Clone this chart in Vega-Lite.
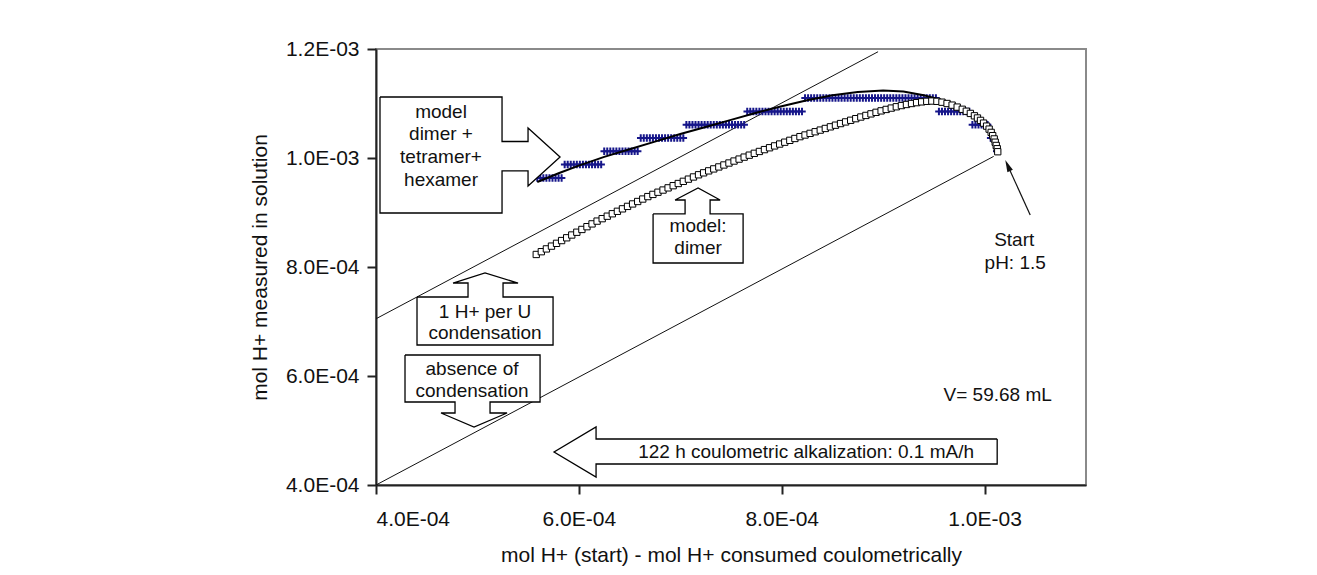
{
  "$schema": "https://vega.github.io/schema/vega-lite/v6.json",
  "width": 710,
  "height": 436,
  "autosize": {"type": "none"},
  "padding": {"left": 376, "top": 49, "right": 231, "bottom": 90},
  "background": "white",
  "config": {
    "font": "Liberation Sans",
    "view": {"stroke": "#8a8a8a", "strokeWidth": 2},
    "axis": {
      "grid": false,
      "domainColor": "#222222",
      "domainWidth": 2,
      "tickColor": "#222222",
      "tickWidth": 2,
      "tickSize": 9,
      "labelFont": "Liberation Sans",
      "labelFontSize": 21,
      "labelColor": "#111111",
      "titleFont": "Liberation Sans",
      "titleFontSize": 21,
      "titleFontWeight": "normal",
      "titleColor": "#111111",
      "labelOverlap": false
    }
  },
  "datasets": {
    "guides": [
      {"line": "one_h_per_u", "x": 4.0e-4, "y": 7.05e-4},
      {"line": "one_h_per_u", "x": 8.95e-4, "y": 1.195e-3},
      {"line": "no_condensation", "x": 4.0e-4, "y": 4.0e-4},
      {"line": "no_condensation", "x": 1.009e-3, "y": 1.003e-3}
    ],
    "measured": [
      {"x": 5.59e-4, "y": 9.635e-4}, {"x": 5.62e-4, "y": 9.635e-4}, {"x": 5.65e-4, "y": 9.635e-4},
      {"x": 5.68e-4, "y": 9.635e-4}, {"x": 5.71e-4, "y": 9.635e-4}, {"x": 5.74e-4, "y": 9.635e-4},
      {"x": 5.77e-4, "y": 9.635e-4}, {"x": 5.80e-4, "y": 9.635e-4}, {"x": 5.83e-4, "y": 9.635e-4},
      {"x": 5.86e-4, "y": 9.88e-4}, {"x": 5.89e-4, "y": 9.88e-4}, {"x": 5.92e-4, "y": 9.88e-4},
      {"x": 5.95e-4, "y": 9.88e-4}, {"x": 5.98e-4, "y": 9.88e-4}, {"x": 6.01e-4, "y": 9.88e-4},
      {"x": 6.04e-4, "y": 9.88e-4}, {"x": 6.07e-4, "y": 9.88e-4}, {"x": 6.10e-4, "y": 9.88e-4},
      {"x": 6.13e-4, "y": 9.88e-4}, {"x": 6.16e-4, "y": 9.88e-4}, {"x": 6.19e-4, "y": 9.88e-4},
      {"x": 6.22e-4, "y": 9.88e-4},
      {"x": 6.25e-4, "y": 1.0123e-3}, {"x": 6.28e-4, "y": 1.0123e-3}, {"x": 6.31e-4, "y": 1.0123e-3},
      {"x": 6.34e-4, "y": 1.0123e-3}, {"x": 6.37e-4, "y": 1.0123e-3}, {"x": 6.40e-4, "y": 1.0123e-3},
      {"x": 6.43e-4, "y": 1.0123e-3}, {"x": 6.46e-4, "y": 1.0123e-3}, {"x": 6.49e-4, "y": 1.0123e-3},
      {"x": 6.52e-4, "y": 1.0123e-3}, {"x": 6.55e-4, "y": 1.0123e-3}, {"x": 6.58e-4, "y": 1.0123e-3},
      {"x": 6.61e-4, "y": 1.0367e-3}, {"x": 6.64e-4, "y": 1.0367e-3}, {"x": 6.67e-4, "y": 1.0367e-3},
      {"x": 6.70e-4, "y": 1.0367e-3}, {"x": 6.73e-4, "y": 1.0367e-3}, {"x": 6.76e-4, "y": 1.0367e-3},
      {"x": 6.79e-4, "y": 1.0367e-3}, {"x": 6.82e-4, "y": 1.0367e-3}, {"x": 6.85e-4, "y": 1.0367e-3},
      {"x": 6.88e-4, "y": 1.0367e-3}, {"x": 6.91e-4, "y": 1.0367e-3}, {"x": 6.94e-4, "y": 1.0367e-3},
      {"x": 6.97e-4, "y": 1.0367e-3}, {"x": 7.00e-4, "y": 1.0367e-3}, {"x": 7.03e-4, "y": 1.0367e-3},
      {"x": 7.06e-4, "y": 1.061e-3}, {"x": 7.09e-4, "y": 1.061e-3}, {"x": 7.12e-4, "y": 1.061e-3},
      {"x": 7.15e-4, "y": 1.061e-3}, {"x": 7.18e-4, "y": 1.061e-3}, {"x": 7.21e-4, "y": 1.061e-3},
      {"x": 7.24e-4, "y": 1.061e-3}, {"x": 7.27e-4, "y": 1.061e-3}, {"x": 7.30e-4, "y": 1.061e-3},
      {"x": 7.33e-4, "y": 1.061e-3}, {"x": 7.36e-4, "y": 1.061e-3}, {"x": 7.39e-4, "y": 1.061e-3},
      {"x": 7.42e-4, "y": 1.061e-3}, {"x": 7.45e-4, "y": 1.061e-3}, {"x": 7.48e-4, "y": 1.061e-3},
      {"x": 7.51e-4, "y": 1.061e-3}, {"x": 7.54e-4, "y": 1.061e-3}, {"x": 7.57e-4, "y": 1.061e-3},
      {"x": 7.60e-4, "y": 1.061e-3}, {"x": 7.63e-4, "y": 1.061e-3},
      {"x": 7.66e-4, "y": 1.0855e-3}, {"x": 7.69e-4, "y": 1.0855e-3}, {"x": 7.72e-4, "y": 1.0855e-3},
      {"x": 7.75e-4, "y": 1.0855e-3}, {"x": 7.78e-4, "y": 1.0855e-3}, {"x": 7.81e-4, "y": 1.0855e-3},
      {"x": 7.84e-4, "y": 1.0855e-3}, {"x": 7.87e-4, "y": 1.0855e-3}, {"x": 7.90e-4, "y": 1.0855e-3},
      {"x": 7.93e-4, "y": 1.0855e-3}, {"x": 7.96e-4, "y": 1.0855e-3}, {"x": 7.99e-4, "y": 1.0855e-3},
      {"x": 8.02e-4, "y": 1.0855e-3}, {"x": 8.05e-4, "y": 1.0855e-3}, {"x": 8.08e-4, "y": 1.0855e-3},
      {"x": 8.11e-4, "y": 1.0855e-3}, {"x": 8.14e-4, "y": 1.0855e-3}, {"x": 8.17e-4, "y": 1.0855e-3},
      {"x": 8.20e-4, "y": 1.0855e-3},
      {"x": 8.23e-4, "y": 1.110e-3}, {"x": 8.26e-4, "y": 1.110e-3}, {"x": 8.29e-4, "y": 1.110e-3},
      {"x": 8.32e-4, "y": 1.110e-3}, {"x": 8.35e-4, "y": 1.110e-3}, {"x": 8.38e-4, "y": 1.110e-3},
      {"x": 8.41e-4, "y": 1.110e-3}, {"x": 8.44e-4, "y": 1.110e-3}, {"x": 8.47e-4, "y": 1.110e-3},
      {"x": 8.50e-4, "y": 1.110e-3}, {"x": 8.53e-4, "y": 1.110e-3}, {"x": 8.56e-4, "y": 1.110e-3},
      {"x": 8.59e-4, "y": 1.110e-3}, {"x": 8.62e-4, "y": 1.110e-3}, {"x": 8.65e-4, "y": 1.110e-3},
      {"x": 8.68e-4, "y": 1.110e-3}, {"x": 8.71e-4, "y": 1.110e-3}, {"x": 8.74e-4, "y": 1.110e-3},
      {"x": 8.77e-4, "y": 1.110e-3}, {"x": 8.80e-4, "y": 1.110e-3}, {"x": 8.83e-4, "y": 1.110e-3},
      {"x": 8.86e-4, "y": 1.110e-3}, {"x": 8.89e-4, "y": 1.110e-3}, {"x": 8.92e-4, "y": 1.110e-3},
      {"x": 8.95e-4, "y": 1.110e-3}, {"x": 8.98e-4, "y": 1.110e-3}, {"x": 9.01e-4, "y": 1.110e-3},
      {"x": 9.04e-4, "y": 1.110e-3}, {"x": 9.07e-4, "y": 1.110e-3}, {"x": 9.10e-4, "y": 1.110e-3},
      {"x": 9.13e-4, "y": 1.110e-3}, {"x": 9.16e-4, "y": 1.110e-3}, {"x": 9.19e-4, "y": 1.110e-3},
      {"x": 9.22e-4, "y": 1.110e-3}, {"x": 9.25e-4, "y": 1.110e-3}, {"x": 9.28e-4, "y": 1.110e-3},
      {"x": 9.31e-4, "y": 1.110e-3}, {"x": 9.34e-4, "y": 1.110e-3}, {"x": 9.37e-4, "y": 1.110e-3},
      {"x": 9.40e-4, "y": 1.110e-3}, {"x": 9.43e-4, "y": 1.110e-3}, {"x": 9.46e-4, "y": 1.110e-3},
      {"x": 9.49e-4, "y": 1.110e-3}, {"x": 9.52e-4, "y": 1.110e-3},
      {"x": 9.55e-4, "y": 1.0855e-3}, {"x": 9.58e-4, "y": 1.0855e-3}, {"x": 9.61e-4, "y": 1.0855e-3},
      {"x": 9.64e-4, "y": 1.0855e-3}, {"x": 9.67e-4, "y": 1.0855e-3}, {"x": 9.70e-4, "y": 1.0855e-3},
      {"x": 9.73e-4, "y": 1.0855e-3}, {"x": 9.76e-4, "y": 1.0855e-3}, {"x": 9.79e-4, "y": 1.0855e-3},
      {"x": 9.82e-4, "y": 1.0855e-3}, {"x": 9.85e-4, "y": 1.0855e-3},
      {"x": 9.88e-4, "y": 1.061e-3}, {"x": 9.91e-4, "y": 1.061e-3}, {"x": 9.94e-4, "y": 1.061e-3},
      {"x": 9.97e-4, "y": 1.061e-3}, {"x": 1.000e-3, "y": 1.061e-3}, {"x": 1.003e-3, "y": 1.061e-3},
      {"x": 1.006e-3, "y": 1.0367e-3}, {"x": 1.009e-3, "y": 1.0367e-3},
      {"x": 1.012e-3, "y": 1.0123e-3}
    ],
    "model_oligomers": [
      {"x": 5.59e-4, "y": 0.956e-3}, {"x": 5.80e-4, "y": 0.972e-3}, {"x": 6.00e-4, "y": 0.986e-3},
      {"x": 6.25e-4, "y": 1.002e-3}, {"x": 6.50e-4, "y": 1.016e-3}, {"x": 6.75e-4, "y": 1.030e-3},
      {"x": 7.00e-4, "y": 1.044e-3}, {"x": 7.25e-4, "y": 1.057e-3}, {"x": 7.50e-4, "y": 1.070e-3},
      {"x": 7.75e-4, "y": 1.083e-3}, {"x": 8.00e-4, "y": 1.095e-3}, {"x": 8.25e-4, "y": 1.106e-3},
      {"x": 8.50e-4, "y": 1.115e-3}, {"x": 8.75e-4, "y": 1.121e-3}, {"x": 9.00e-4, "y": 1.124e-3},
      {"x": 9.20e-4, "y": 1.122e-3}, {"x": 9.40e-4, "y": 1.115e-3}, {"x": 9.55e-4, "y": 1.108e-3},
      {"x": 9.70e-4, "y": 1.099e-3}, {"x": 9.80e-4, "y": 1.090e-3}, {"x": 9.90e-4, "y": 1.080e-3},
      {"x": 9.97e-4, "y": 1.071e-3}, {"x": 1.003e-3, "y": 1.060e-3}, {"x": 1.007e-3, "y": 1.049e-3},
      {"x": 1.010e-3, "y": 1.038e-3}, {"x": 1.012e-3, "y": 1.028e-3}, {"x": 1.013e-3, "y": 1.018e-3}
    ],
    "model_dimer": [
      {"x": 5.58e-4, "y": 0.8230e-3}, {"x": 5.63e-4, "y": 0.8281e-3}, {"x": 5.68e-4, "y": 0.8332e-3},
      {"x": 5.73e-4, "y": 0.8383e-3}, {"x": 5.78e-4, "y": 0.8434e-3}, {"x": 5.83e-4, "y": 0.8485e-3},
      {"x": 5.88e-4, "y": 0.8536e-3}, {"x": 5.93e-4, "y": 0.8587e-3}, {"x": 5.98e-4, "y": 0.8638e-3},
      {"x": 6.03e-4, "y": 0.8689e-3}, {"x": 6.08e-4, "y": 0.8740e-3}, {"x": 6.13e-4, "y": 0.8791e-3},
      {"x": 6.18e-4, "y": 0.8842e-3}, {"x": 6.23e-4, "y": 0.8887e-3}, {"x": 6.28e-4, "y": 0.8932e-3},
      {"x": 6.33e-4, "y": 0.8977e-3}, {"x": 6.38e-4, "y": 0.9022e-3}, {"x": 6.43e-4, "y": 0.9067e-3},
      {"x": 6.48e-4, "y": 0.9112e-3}, {"x": 6.53e-4, "y": 0.9157e-3}, {"x": 6.58e-4, "y": 0.9202e-3},
      {"x": 6.63e-4, "y": 0.9247e-3}, {"x": 6.68e-4, "y": 0.9292e-3}, {"x": 6.73e-4, "y": 0.9332e-3},
      {"x": 6.78e-4, "y": 0.9372e-3}, {"x": 6.83e-4, "y": 0.9412e-3}, {"x": 6.88e-4, "y": 0.9452e-3},
      {"x": 6.93e-4, "y": 0.9492e-3}, {"x": 6.98e-4, "y": 0.9532e-3}, {"x": 7.03e-4, "y": 0.9572e-3},
      {"x": 7.08e-4, "y": 0.9612e-3}, {"x": 7.13e-4, "y": 0.9652e-3}, {"x": 7.18e-4, "y": 0.9692e-3},
      {"x": 7.23e-4, "y": 0.9728e-3}, {"x": 7.28e-4, "y": 0.9764e-3}, {"x": 7.33e-4, "y": 0.9800e-3},
      {"x": 7.38e-4, "y": 0.9836e-3}, {"x": 7.43e-4, "y": 0.9872e-3}, {"x": 7.48e-4, "y": 0.9908e-3},
      {"x": 7.53e-4, "y": 0.9944e-3}, {"x": 7.58e-4, "y": 0.9980e-3}, {"x": 7.63e-4, "y": 1.0016e-3},
      {"x": 7.68e-4, "y": 1.0052e-3}, {"x": 7.73e-4, "y": 1.0086e-3}, {"x": 7.78e-4, "y": 1.0120e-3},
      {"x": 7.83e-4, "y": 1.0154e-3}, {"x": 7.88e-4, "y": 1.0188e-3}, {"x": 7.93e-4, "y": 1.0222e-3},
      {"x": 7.98e-4, "y": 1.0256e-3}, {"x": 8.03e-4, "y": 1.0290e-3}, {"x": 8.08e-4, "y": 1.0324e-3},
      {"x": 8.13e-4, "y": 1.0358e-3}, {"x": 8.18e-4, "y": 1.0392e-3}, {"x": 8.23e-4, "y": 1.0422e-3},
      {"x": 8.28e-4, "y": 1.0452e-3}, {"x": 8.33e-4, "y": 1.0482e-3}, {"x": 8.38e-4, "y": 1.0512e-3},
      {"x": 8.43e-4, "y": 1.0542e-3}, {"x": 8.48e-4, "y": 1.0572e-3}, {"x": 8.53e-4, "y": 1.0602e-3},
      {"x": 8.58e-4, "y": 1.0632e-3}, {"x": 8.63e-4, "y": 1.0662e-3}, {"x": 8.68e-4, "y": 1.0692e-3},
      {"x": 8.73e-4, "y": 1.0722e-3}, {"x": 8.78e-4, "y": 1.0752e-3}, {"x": 8.83e-4, "y": 1.0781e-3},
      {"x": 8.88e-4, "y": 1.0810e-3}, {"x": 8.93e-4, "y": 1.0838e-3}, {"x": 8.98e-4, "y": 1.0865e-3},
      {"x": 9.03e-4, "y": 1.0891e-3}, {"x": 9.08e-4, "y": 1.0916e-3}, {"x": 9.13e-4, "y": 1.0940e-3},
      {"x": 9.18e-4, "y": 1.0962e-3}, {"x": 9.23e-4, "y": 1.0982e-3}, {"x": 9.28e-4, "y": 1.1000e-3},
      {"x": 9.33e-4, "y": 1.1016e-3}, {"x": 9.38e-4, "y": 1.1030e-3}, {"x": 9.43e-4, "y": 1.1040e-3},
      {"x": 9.48e-4, "y": 1.1045e-3}, {"x": 9.53e-4, "y": 1.1040e-3}, {"x": 9.58e-4, "y": 1.1024e-3},
      {"x": 9.63e-4, "y": 1.1000e-3}, {"x": 9.68e-4, "y": 1.0970e-3}, {"x": 9.73e-4, "y": 1.0934e-3},
      {"x": 9.78e-4, "y": 1.0894e-3}, {"x": 9.82e-4, "y": 1.0858e-3}, {"x": 9.86e-4, "y": 1.0818e-3},
      {"x": 9.90e-4, "y": 1.0774e-3}, {"x": 9.93e-4, "y": 1.0734e-3}, {"x": 9.96e-4, "y": 1.0690e-3},
      {"x": 9.99e-4, "y": 1.0640e-3}, {"x": 1.002e-3, "y": 1.0585e-3}, {"x": 1.0045e-3, "y": 1.0530e-3},
      {"x": 1.0065e-3, "y": 1.0470e-3}, {"x": 1.008e-3, "y": 1.0410e-3}, {"x": 1.0095e-3, "y": 1.0350e-3},
      {"x": 1.0105e-3, "y": 1.0290e-3}, {"x": 1.0115e-3, "y": 1.0230e-3}, {"x": 1.0125e-3, "y": 1.0170e-3},
      {"x": 1.013e-3, "y": 1.0115e-3}
    ],
    "callouts": [
      {"shape": "oligomers", "i": 0, "x": 4.0394e-4, "y": 1.1119e-3},
      {"shape": "oligomers", "i": 1, "x": 5.2426e-4, "y": 1.1119e-3},
      {"shape": "oligomers", "i": 2, "x": 5.2426e-4, "y": 1.0303e-3},
      {"shape": "oligomers", "i": 3, "x": 5.4990e-4, "y": 1.0303e-3},
      {"shape": "oligomers", "i": 4, "x": 5.4990e-4, "y": 1.0550e-3},
      {"shape": "oligomers", "i": 5, "x": 5.8146e-4, "y": 1.0018e-3},
      {"shape": "oligomers", "i": 6, "x": 5.4990e-4, "y": 0.9486e-3},
      {"shape": "oligomers", "i": 7, "x": 5.4990e-4, "y": 0.9762e-3},
      {"shape": "oligomers", "i": 8, "x": 5.2426e-4, "y": 0.9762e-3},
      {"shape": "oligomers", "i": 9, "x": 5.2426e-4, "y": 0.8991e-3},
      {"shape": "oligomers", "i": 10, "x": 4.0394e-4, "y": 0.8991e-3},
      {"shape": "oligomers", "i": 11, "x": 4.0394e-4, "y": 1.1119e-3},

      {"shape": "dimer", "i": 0, "x": 6.7318e-4, "y": 0.8973e-3},
      {"shape": "dimer", "i": 1, "x": 7.0473e-4, "y": 0.8973e-3},
      {"shape": "dimer", "i": 2, "x": 7.0473e-4, "y": 0.9229e-3},
      {"shape": "dimer", "i": 3, "x": 6.9487e-4, "y": 0.9229e-3},
      {"shape": "dimer", "i": 4, "x": 7.1755e-4, "y": 0.9450e-3},
      {"shape": "dimer", "i": 5, "x": 7.3925e-4, "y": 0.9229e-3},
      {"shape": "dimer", "i": 6, "x": 7.2939e-4, "y": 0.9229e-3},
      {"shape": "dimer", "i": 7, "x": 7.2939e-4, "y": 0.8973e-3},
      {"shape": "dimer", "i": 8, "x": 7.6193e-4, "y": 0.8973e-3},
      {"shape": "dimer", "i": 9, "x": 7.6193e-4, "y": 0.8073e-3},
      {"shape": "dimer", "i": 10, "x": 6.7318e-4, "y": 0.8073e-3},
      {"shape": "dimer", "i": 11, "x": 6.7318e-4, "y": 0.8973e-3},

      {"shape": "one_h", "i": 0, "x": 4.4043e-4, "y": 0.7450e-3},
      {"shape": "one_h", "i": 1, "x": 4.9073e-4, "y": 0.7450e-3},
      {"shape": "one_h", "i": 2, "x": 4.9073e-4, "y": 0.7706e-3},
      {"shape": "one_h", "i": 3, "x": 4.7594e-4, "y": 0.7706e-3},
      {"shape": "one_h", "i": 4, "x": 5.0750e-4, "y": 0.7890e-3},
      {"shape": "one_h", "i": 5, "x": 5.4004e-4, "y": 0.7706e-3},
      {"shape": "one_h", "i": 6, "x": 5.2525e-4, "y": 0.7706e-3},
      {"shape": "one_h", "i": 7, "x": 5.2525e-4, "y": 0.7450e-3},
      {"shape": "one_h", "i": 8, "x": 5.7456e-4, "y": 0.7450e-3},
      {"shape": "one_h", "i": 9, "x": 5.7456e-4, "y": 0.6569e-3},
      {"shape": "one_h", "i": 10, "x": 4.4043e-4, "y": 0.6569e-3},
      {"shape": "one_h", "i": 11, "x": 4.4043e-4, "y": 0.7450e-3},

      {"shape": "absence", "i": 0, "x": 4.2860e-4, "y": 0.6385e-3},
      {"shape": "absence", "i": 1, "x": 5.6174e-4, "y": 0.6385e-3},
      {"shape": "absence", "i": 2, "x": 5.6174e-4, "y": 0.5523e-3},
      {"shape": "absence", "i": 3, "x": 5.1243e-4, "y": 0.5523e-3},
      {"shape": "absence", "i": 4, "x": 5.1243e-4, "y": 0.5321e-3},
      {"shape": "absence", "i": 5, "x": 5.2919e-4, "y": 0.5321e-3},
      {"shape": "absence", "i": 6, "x": 4.9665e-4, "y": 0.5064e-3},
      {"shape": "absence", "i": 7, "x": 4.6410e-4, "y": 0.5321e-3},
      {"shape": "absence", "i": 8, "x": 4.7791e-4, "y": 0.5321e-3},
      {"shape": "absence", "i": 9, "x": 4.7791e-4, "y": 0.5523e-3},
      {"shape": "absence", "i": 10, "x": 4.2860e-4, "y": 0.5523e-3},
      {"shape": "absence", "i": 11, "x": 4.2860e-4, "y": 0.6385e-3},

      {"shape": "alkalization", "i": 0, "x": 1.01243e-3, "y": 0.4844e-3},
      {"shape": "alkalization", "i": 1, "x": 6.1696e-4, "y": 0.4844e-3},
      {"shape": "alkalization", "i": 2, "x": 6.1696e-4, "y": 0.5064e-3},
      {"shape": "alkalization", "i": 3, "x": 5.7554e-4, "y": 0.4606e-3},
      {"shape": "alkalization", "i": 4, "x": 6.1696e-4, "y": 0.4147e-3},
      {"shape": "alkalization", "i": 5, "x": 6.1696e-4, "y": 0.4385e-3},
      {"shape": "alkalization", "i": 6, "x": 1.01243e-3, "y": 0.4385e-3},
      {"shape": "alkalization", "i": 7, "x": 1.01243e-3, "y": 0.4844e-3}
    ],
    "notes": [
      {"text": "model", "x": 4.6410e-4, "y": 1.0844e-3},
      {"text": "dimer +", "x": 4.6410e-4, "y": 1.0440e-3},
      {"text": "tetramer+", "x": 4.6410e-4, "y": 1.0018e-3},
      {"text": "hexamer", "x": 4.6410e-4, "y": 0.9596e-3},
      {"text": "model:", "x": 7.1755e-4, "y": 0.8752e-3},
      {"text": "dimer", "x": 7.1755e-4, "y": 0.8349e-3},
      {"text": "1 H+ per U", "x": 5.0750e-4, "y": 0.7174e-3},
      {"text": "condensation", "x": 5.0750e-4, "y": 0.6789e-3},
      {"text": "absence of", "x": 4.9467e-4, "y": 0.6128e-3},
      {"text": "condensation", "x": 4.9467e-4, "y": 0.5725e-3},
      {"text": "122 h coulometric alkalization: 0.1 mA/h", "x": 8.2406e-4, "y": 0.4606e-3},
      {"text": "V= 59.68 mL", "x": 1.0129e-3, "y": 0.5651e-3},
      {"text": "Start", "x": 1.0292e-3, "y": 0.8495e-3},
      {"text": "pH: 1.5", "x": 1.0302e-3, "y": 0.8073e-3}
    ],
    "start_pointer": [
      {"x": 1.0450e-3, "y": 0.8954e-3},
      {"x": 1.0228e-3, "y": 0.9862e-3}
    ],
    "start_head": [
      {"x": 1.0228e-3, "y": 0.9862e-3}
    ]
  },
  "encoding": {
    "x": {
      "field": "x",
      "type": "quantitative",
      "scale": {"domain": [0.0004, 0.0011], "nice": false, "zero": false},
      "axis": {
        "title": "mol H+ (start) - mol H+ consumed coulometrically",
        "values": [0.0004, 0.0006, 0.0008, 0.001],
        "labelExpr": "datum.value >= 0.00099 ? format(datum.value * 1000, '.1f') + 'E-03' : format(datum.value * 10000, '.1f') + 'E-04'",
        "labelPadding": 14,
        "titlePadding": 15
      }
    },
    "y": {
      "field": "y",
      "type": "quantitative",
      "scale": {"domain": [0.0004, 0.0012], "nice": false, "zero": false},
      "axis": {
        "title": "mol H+  measured in solution",
        "values": [0.0004, 0.0006, 0.0008, 0.001, 0.0012],
        "labelExpr": "datum.value >= 0.00099 ? format(datum.value * 1000, '.1f') + 'E-03' : format(datum.value * 10000, '.1f') + 'E-04'",
        "labelPadding": 8,
        "titlePadding": 15
      }
    }
  },
  "layer": [
    {
      "data": {"name": "guides"},
      "mark": {"type": "line", "color": "#111111", "strokeWidth": 1},
      "encoding": {"detail": {"field": "line"}}
    },
    {
      "data": {"name": "measured"},
      "mark": {
        "type": "point",
        "shape": "M-1,0L1,0M0,-1L0,1",
        "filled": false,
        "stroke": "#16168a",
        "strokeWidth": 2,
        "size": 56,
        "opacity": 1
      }
    },
    {
      "data": {"name": "model_oligomers"},
      "mark": {"type": "line", "color": "#000000", "strokeWidth": 2}
    },
    {
      "data": {"name": "model_dimer"},
      "mark": {
        "type": "point",
        "shape": "square",
        "fill": "#ffffff",
        "stroke": "#000000",
        "strokeWidth": 1,
        "size": 40,
        "opacity": 1
      }
    },
    {
      "data": {"name": "callouts"},
      "mark": {"type": "line", "stroke": "#000000", "fill": "#ffffff", "strokeWidth": 1.3},
      "encoding": {
        "detail": {"field": "shape"},
        "order": {"field": "i", "type": "quantitative"}
      }
    },
    {
      "data": {"name": "notes"},
      "mark": {"type": "text", "font": "Liberation Sans", "fontSize": 19, "color": "#111111", "align": "center", "baseline": "middle"},
      "encoding": {"text": {"field": "text"}}
    },
    {
      "data": {"name": "start_pointer"},
      "mark": {"type": "line", "color": "#111111", "strokeWidth": 1.2}
    },
    {
      "data": {"name": "start_head"},
      "mark": {
        "type": "point",
        "shape": "M0,-1L0.5,1L-0.5,1Z",
        "filled": true,
        "color": "#111111",
        "size": 144,
        "angle": 336,
        "opacity": 1
      }
    }
  ]
}
